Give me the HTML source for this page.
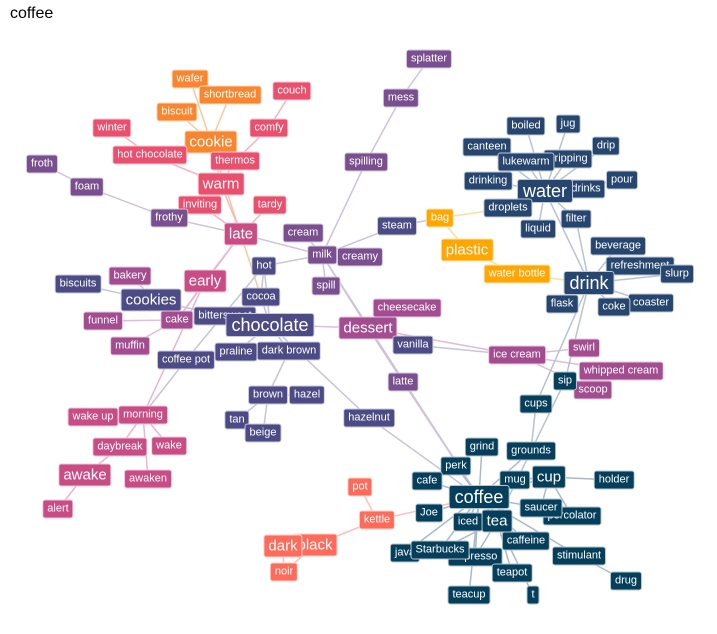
<!DOCTYPE html>
<html><head><meta charset="utf-8">
<style>
body{margin:0;width:717px;height:634px;background:#fff;position:relative;overflow:hidden;font-family:"Liberation Sans",sans-serif}
#t{position:absolute;left:10px;top:5px;font-size:16px;color:#000}
svg{position:absolute;left:0;top:0}
.n{position:absolute;transform:translate(-50%,-50%);color:#fff;font-size:11px;line-height:13px;padding:2px 4px;border-radius:3px;border:1px solid rgba(255,255,255,.7);white-space:nowrap}
.m{font-size:15px;line-height:17px}
.l{font-size:18px;line-height:20px;padding:1px 5px}
.o{background:#f9852f}.r{background:#e8506e}.k{background:#c94c84}.d{background:#a34d90}.p{background:#7a4f8f}.i{background:#4d4b86}.v{background:#27466f}.c{background:#063f5c}.a{background:#ffa600}.s{background:#ff6b5b}
</style></head><body>
<div id="t">coffee</div>
<svg id="g" width="717" height="634"></svg>
<div id="nodes">
<div class="n o" style="left:190px;top:79px">wafer</div>
<div class="n o" style="left:230px;top:95px">shortbread</div>
<div class="n o" style="left:177px;top:112px">biscuit</div>
<div class="n r" style="left:292px;top:91px">couch</div>
<div class="n r" style="left:269px;top:128px">comfy</div>
<div class="n r" style="left:112px;top:128px">winter</div>
<div class="n o m" style="left:211px;top:142px">cookie</div>
<div class="n r" style="left:150px;top:155px">hot chocolate</div>
<div class="n r" style="left:235px;top:161px">thermos</div>
<div class="n r m" style="left:221px;top:184px">warm</div>
<div class="n r" style="left:200px;top:205px">inviting</div>
<div class="n r" style="left:270px;top:205px">tardy</div>
<div class="n p" style="left:42px;top:164px">froth</div>
<div class="n p" style="left:87px;top:187px">foam</div>
<div class="n p" style="left:169px;top:218px">frothy</div>
<div class="n k m" style="left:241px;top:234px">late</div>
<div class="n p" style="left:429px;top:59px">splatter</div>
<div class="n p" style="left:401px;top:98px">mess</div>
<div class="n p" style="left:366px;top:162px">spilling</div>
<div class="n p" style="left:303px;top:233px">cream</div>
<div class="n p" style="left:360px;top:257px">creamy</div>
<div class="n p" style="left:322px;top:255px">milk</div>
<div class="n p" style="left:326px;top:286px">spill</div>
<div class="n i" style="left:397px;top:226px">steam</div>
<div class="n a" style="left:440px;top:218px">bag</div>
<div class="n a m" style="left:467px;top:250px">plastic</div>
<div class="n a" style="left:517px;top:274px">water bottle</div>
<div class="n i" style="left:264px;top:266px">hot</div>
<div class="n k m" style="left:205px;top:281px">early</div>
<div class="n d" style="left:130px;top:276px">bakery</div>
<div class="n i" style="left:78px;top:284px">biscuits</div>
<div class="n i" style="left:261px;top:297px">cocoa</div>
<div class="n i m" style="left:151px;top:300px">cookies</div>
<div class="n i" style="left:225px;top:316px">bittersweet</div>
<div class="n d" style="left:103px;top:321px">funnel</div>
<div class="n d" style="left:177px;top:320px">cake</div>
<div class="n i l" style="left:270px;top:325px">chocolate</div>
<div class="n d m" style="left:368px;top:328px">dessert</div>
<div class="n d" style="left:407px;top:308px">cheesecake</div>
<div class="n d" style="left:130px;top:346px">muffin</div>
<div class="n i" style="left:186px;top:360px">coffee pot</div>
<div class="n i" style="left:236px;top:352px">praline</div>
<div class="n i" style="left:289px;top:351px">dark brown</div>
<div class="n i" style="left:413px;top:345px">vanilla</div>
<div class="n d" style="left:517px;top:355px">ice cream</div>
<div class="n d" style="left:584px;top:348px">swirl</div>
<div class="n d" style="left:621px;top:371px">whipped cream</div>
<div class="n d" style="left:593px;top:390px">scoop</div>
<div class="n p" style="left:403px;top:382px">latte</div>
<div class="n i" style="left:268px;top:395px">brown</div>
<div class="n i" style="left:307px;top:395px">hazel</div>
<div class="n i" style="left:237px;top:420px">tan</div>
<div class="n i" style="left:263px;top:433px">beige</div>
<div class="n i" style="left:369px;top:418px">hazelnut</div>
<div class="n k" style="left:93px;top:417px">wake up</div>
<div class="n k" style="left:143px;top:415px">morning</div>
<div class="n k" style="left:120px;top:447px">daybreak</div>
<div class="n k" style="left:169px;top:446px">wake</div>
<div class="n k m" style="left:85px;top:475px">awake</div>
<div class="n k" style="left:148px;top:479px">awaken</div>
<div class="n k" style="left:58px;top:509px">alert</div>
<div class="n v" style="left:526px;top:126px">boiled</div>
<div class="n v" style="left:568px;top:124px">jug</div>
<div class="n v" style="left:487px;top:147px">canteen</div>
<div class="n v" style="left:606px;top:146px">drip</div>
<div class="n v" style="left:568px;top:159px">dripping</div>
<div class="n v" style="left:526px;top:162px">lukewarm</div>
<div class="n v" style="left:488px;top:181px">drinking</div>
<div class="n v" style="left:586px;top:189px">drinks</div>
<div class="n v" style="left:622px;top:180px">pour</div>
<div class="n v l" style="left:545px;top:191px">water</div>
<div class="n v" style="left:508px;top:208px">droplets</div>
<div class="n v" style="left:576px;top:219px">filter</div>
<div class="n v" style="left:538px;top:229px">liquid</div>
<div class="n v" style="left:618px;top:246px">beverage</div>
<div class="n v" style="left:640px;top:266px">refreshment</div>
<div class="n v" style="left:677px;top:274px">slurp</div>
<div class="n v l" style="left:589px;top:283px">drink</div>
<div class="n v" style="left:562px;top:304px">flask</div>
<div class="n v" style="left:651px;top:303px">coaster</div>
<div class="n v" style="left:614px;top:307px">coke</div>
<div class="n c" style="left:565px;top:381px">sip</div>
<div class="n c" style="left:536px;top:404px">cups</div>
<div class="n c" style="left:482px;top:447px">grind</div>
<div class="n c" style="left:531px;top:451px">grounds</div>
<div class="n c" style="left:456px;top:466px">perk</div>
<div class="n c" style="left:427px;top:481px">cafe</div>
<div class="n c" style="left:515px;top:480px">mug</div>
<div class="n c m" style="left:549px;top:477px">cup</div>
<div class="n c" style="left:614px;top:480px">holder</div>
<div class="n c l" style="left:479px;top:497px">coffee</div>
<div class="n c" style="left:429px;top:513px">Joe</div>
<div class="n c" style="left:572px;top:516px">percolator</div>
<div class="n c" style="left:541px;top:508px">saucer</div>
<div class="n c" style="left:468px;top:522px">iced</div>
<div class="n c m" style="left:497px;top:521px">tea</div>
<div class="n c" style="left:526px;top:541px">caffeine</div>
<div class="n c" style="left:579px;top:556px">stimulant</div>
<div class="n c" style="left:405px;top:553px">java</div>
<div class="n c" style="left:475px;top:557px">espresso</div>
<div class="n c" style="left:440px;top:550px">Starbucks</div>
<div class="n c" style="left:512px;top:573px">teapot</div>
<div class="n c" style="left:626px;top:581px">drug</div>
<div class="n c" style="left:469px;top:595px">teacup</div>
<div class="n c" style="left:533px;top:595px">t</div>
<div class="n s" style="left:360px;top:487px">pot</div>
<div class="n s" style="left:377px;top:520px">kettle</div>
<div class="n s m" style="left:315px;top:545px">black</div>
<div class="n s m" style="left:283px;top:546px">dark</div>
<div class="n s" style="left:284px;top:572px">noir</div>
</div>
<script>
var P={};document.querySelectorAll('.n').forEach(function(e){P[e.textContent]=[parseFloat(e.style.left),parseFloat(e.style.top)];});
var E=[
["#fcc89a","wafer cookie,shortbread cookie,biscuit cookie,cookie warm,cookie chocolate"],
["#f5b3c0","couch comfy,comfy thermos,thermos warm,winter hot chocolate,hot chocolate warm,warm inviting,warm late,tardy late,inviting late"],
["#eeb3cd","late early,late cake,early morning,early cake,morning wake up,morning daybreak,morning wake,morning awaken,daybreak awake,awake alert"],
["#e0bcd8","cake funnel,cake muffin,cake bakery,chocolate dessert,dessert cheesecake,dessert ice cream,ice cream swirl,ice cream whipped cream,ice cream scoop,dessert milk"],
["#cfc3dc","froth foam,foam frothy,frothy late,late milk,milk cream,milk creamy,milk spill,milk spilling,spilling mess,mess splatter,milk steam,milk coffee,dessert latte,latte coffee,milk hot"],
["#c5c4db","hot cocoa,hot chocolate,cocoa chocolate,biscuits cookies,cookies bittersweet,bittersweet chocolate,chocolate praline,chocolate dark brown,chocolate hazelnut,dark brown brown,brown hazel,brown tan,brown beige,coffee pot morning,hot coffee pot,hazelnut coffee,vanilla ice cream,dessert vanilla,steam bag"],
["#ffdca0","bag plastic,plastic water bottle,water bottle drink,bag droplets"],
["#b7c3d1","water boiled,water jug,water canteen,water drip,water dripping,water lukewarm,water drinking,water drinks,water pour,water droplets,water filter,water liquid,water drink,filter drink,drink beverage,drink refreshment,drink slurp,drink flask,drink coke,drink coaster,drink cups,cups grounds,drink sip,sip tea"],
["#a9bac6","coffee grind,coffee grounds,coffee perk,coffee cafe,coffee mug,coffee cup,coffee Joe,coffee saucer,coffee iced,coffee tea,coffee java,coffee Starbucks,coffee espresso,coffee teacup,coffee caffeine,coffee stimulant,cup holder,cup saucer,cup percolator,cup mug,tea teapot,tea t,tea caffeine,stimulant drug,tea Starbucks,tea espresso"],
["#ffc0b8","kettle coffee,kettle pot,kettle black,black dark,dark noir,black noir"]];
var s='';E.forEach(function(g){g[1].split(',').forEach(function(p){var n=Object.keys(P).sort(function(a,b){return b.length-a.length});var a,b;for(var i=0;i<n.length;i++){var k=n[i];if(p.indexOf(k+' ')===0&&P[p.slice(k.length+1)]){a=P[k];b=P[p.slice(k.length+1)];break;}}if(a)s+='<line x1="'+a[0]+'" y1="'+a[1]+'" x2="'+b[0]+'" y2="'+b[1]+'" stroke="'+g[0]+'" stroke-width="1.5"/>';});});
document.getElementById('g').innerHTML=s;
</script>
</body></html>
